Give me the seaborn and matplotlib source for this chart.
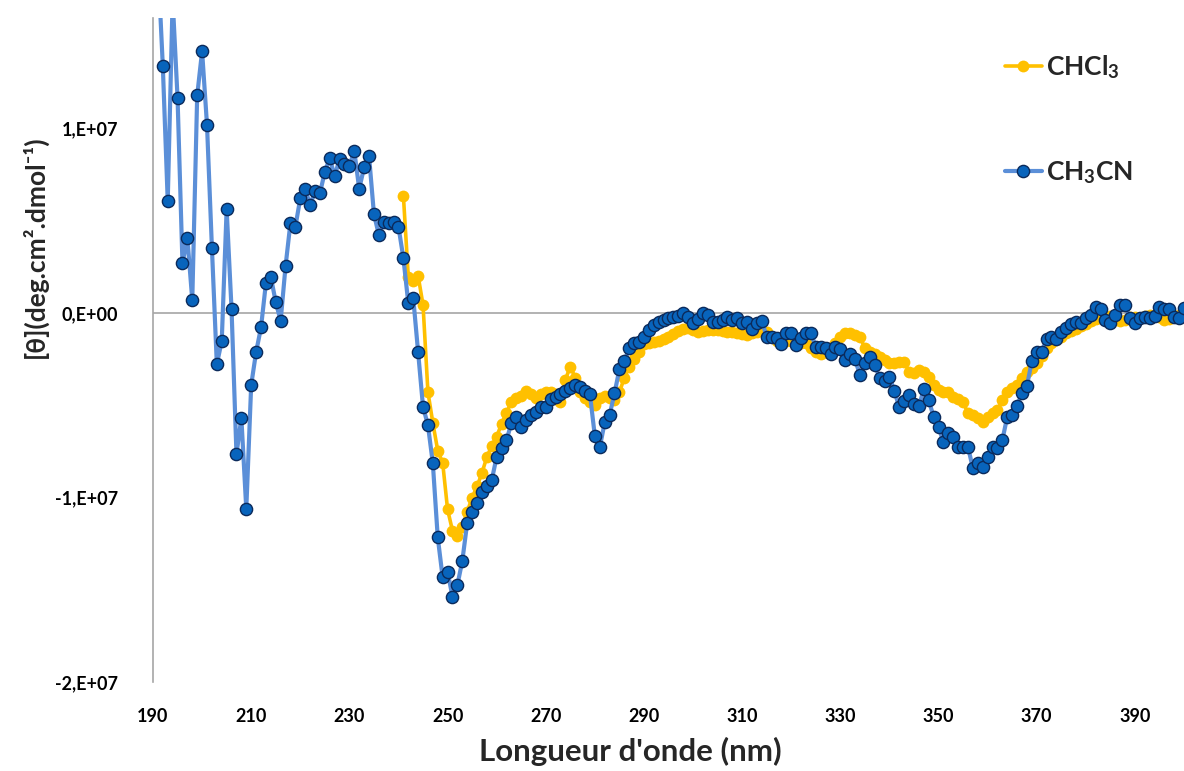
import matplotlib
matplotlib.use("Agg")
import matplotlib.pyplot as plt
import numpy as np
import pandas as pd
import seaborn as sns

# ---------------- data (theta values in units of 1e6) ----------------
wl_ch3cn = list(range(191, 401))
theta_ch3cn = [
    19.0, 13.39, 6.07, 17.0, 11.67, 2.71, 4.06, 0.70, 11.8, 14.2,
    10.2, 3.54, -2.77, -1.52, 5.64, 0.20, -7.64, -5.69, -10.62, -3.90,
    -2.11, -0.78, 1.63, 1.96, 0.60, -0.42, 2.55, 4.90, 4.68, 6.23,
    6.74, 5.85, 6.63, 6.50, 7.66, 8.40, 7.42, 8.36, 8.11, 7.97,
    8.80, 6.74, 7.90, 8.53, 5.38, 4.24, 4.92, 4.86, 4.93, 4.68,
    2.98, 0.54, 0.84, -2.11, -5.08, -6.07, -8.15, -12.16, -14.33, -14.02,
    -15.38, -14.74, -13.44, -11.37, -10.77, -10.28, -9.68, -9.36, -9.05, -7.79,
    -7.30, -6.88, -5.98, -5.65, -6.16, -5.80, -5.53, -5.35, -5.11, -5.11,
    -4.66, -4.53, -4.39, -4.23, -4.08, -3.90, -4.03, -4.21, -4.41, -6.67,
    -7.28, -5.93, -5.53, -4.35, -3.05, -2.60, -1.91, -1.64, -1.55, -1.32,
    -0.92, -0.65, -0.47, -0.38, -0.29, -0.20, -0.16, 0.02, -0.20, -0.56,
    -0.34, 0.02, -0.11, -0.47, -0.47, -0.38, -0.23, -0.38, -0.29, -0.56,
    -0.47, -0.88, -0.56, -0.42, -1.28, -1.32, -1.34, -1.68, -1.10, -1.10,
    -1.73, -1.37, -1.10, -1.10, -1.82, -1.82, -1.90, -2.19, -1.82, -1.97,
    -2.55, -2.22, -2.51, -3.36, -2.73, -2.40, -2.82, -3.50, -3.69, -3.45,
    -4.21, -5.11, -4.75, -4.44, -4.93, -5.04, -4.14, -4.72, -5.62, -6.16,
    -7.01, -6.52, -6.70, -7.25, -7.25, -7.25, -8.42, -8.15, -8.33, -7.79,
    -7.25, -7.34, -6.88, -5.62, -5.53, -5.04, -4.32, -3.96, -2.60, -2.10,
    -2.10, -1.43, -1.28, -1.43, -1.01, -0.79, -0.61, -0.47, -0.56, -0.29,
    -0.11, 0.34, 0.22, -0.38, -0.52, -0.11, 0.43, 0.43, -0.29, -0.56,
    -0.29, -0.20, -0.24, -0.15, 0.31, 0.20, 0.20, -0.20, -0.24, 0.25,
]

wl_chcl3 = list(range(241, 401))
theta_chcl3 = [
    6.36, 1.97, 1.75, 2.02, 0.45, -4.28, -5.95, -7.46, -8.11, -10.64,
    -11.80, -12.09, -11.58, -10.77, -10.0, -9.4, -8.67, -7.8, -7.2, -6.7,
    -6.0, -5.4, -4.8, -4.6, -4.5, -4.2, -4.4, -4.6, -4.4, -4.3,
    -4.3, -4.4, -4.8, -3.6, -2.9, -3.5, -4.3, -4.6, -4.8, -5.0,
    -4.6, -4.5, -4.6, -4.7, -4.3, -3.5, -2.9, -2.5, -2.1, -1.7,
    -1.6, -1.55, -1.5, -1.4, -1.3, -1.15, -0.95, -0.85, -0.8, -0.9,
    -1.0, -0.95, -0.9, -0.9, -0.9, -0.95, -1.0, -1.0, -1.1, -1.15,
    -1.2, -1.1, -1.0, -0.95, -1.0, -1.3, -1.5, -1.55, -1.5, -1.5,
    -1.55, -1.6, -1.6, -1.9, -2.1, -2.2, -2.1, -1.9, -1.6, -1.28,
    -1.10, -1.10, -1.19, -1.28, -1.91, -2.10, -2.19, -2.37, -2.55, -2.73,
    -2.73, -2.64, -2.64, -3.18, -3.27, -3.09, -3.18, -3.45, -3.90, -4.17,
    -4.26, -4.26, -4.53, -4.63, -4.81, -5.44, -5.53, -5.71, -5.89, -5.62,
    -5.44, -5.26, -4.72, -4.26, -4.08, -3.90, -3.54, -3.18, -3.0, -2.7,
    -2.3, -1.9, -1.6, -1.45, -1.3, -1.1, -0.95, -0.85, -0.7, -0.6,
    -0.45, -0.3, -0.2, -0.25, -0.15, -0.35, -0.45, -0.35, -0.2, -0.2,
    -0.25, -0.15, -0.1, -0.1, -0.2, -0.35, -0.3, -0.2, -0.1, -0.1,
]

series_labels = [r"CHCl$_\mathbf{3}$", r"CH$_\mathbf{3}$CN"]
x_ticks = [190, 210, 230, 250, 270, 290, 310, 330, 350, 370, 390]
y_ticks = [-2e7, -1e7, 0, 1e7]
y_tick_labels = ["-2,E+07", "-1,E+07", "0,E+00", "1,E+07"]
x_label = "Longueur d'onde (nm)"
y_label = "[θ](deg.cm².dmol⁻¹)"

df_chcl3 = pd.DataFrame({"wl": wl_chcl3, "theta": np.array(theta_chcl3) * 1e6})
df_ch3cn = pd.DataFrame({"wl": wl_ch3cn, "theta": np.array(theta_ch3cn) * 1e6})

# ---------------- style ----------------
sns.set_theme(style="white")
FAM = ["Lato", "DejaVu Sans"]
plt.rcParams["font.family"] = FAM
plt.rcParams["mathtext.fontset"] = "custom"
plt.rcParams["mathtext.bf"] = "Lato:bold"
plt.rcParams["mathtext.rm"] = "Lato"
plt.rcParams["mathtext.it"] = "Lato:italic"

W, H = 1184, 771
fig = plt.figure(figsize=(W / 100, H / 100), dpi=100)
ax = fig.add_axes([153 / W, 1 - 682 / H, 1 - 153 / W, (682 - 18) / H])

ax.axhline(0, color="#A6A6A6", lw=1.2, zorder=1)

sns.lineplot(data=df_chcl3, x="wl", y="theta", ax=ax, color="#FFC000",
             lw=2.6, marker="o", markersize=8.5, markeredgewidth=0,
             markeredgecolor="#FFC000", label=series_labels[0],
             estimator=None, sort=False, zorder=3)
sns.lineplot(data=df_ch3cn, x="wl", y="theta", ax=ax, color="#5B8FD8",
             lw=3.0, marker="o", markersize=8.8, markeredgewidth=1.0,
             markerfacecolor="#0864BC", markeredgecolor="#0B2A5B",
             label=series_labels[1], estimator=None, sort=False, zorder=4)

ax.set_xlim(190, 400)
ax.set_ylim(-2e7, 1.6e7)
ax.set_xticks(x_ticks)
ax.set_xticklabels([str(v) for v in x_ticks])
ax.set_yticks(y_ticks)
ax.set_yticklabels(y_tick_labels)
ax.tick_params(axis="both", length=0, labelsize=13)
ax.tick_params(axis="x", pad=19)
ax.tick_params(axis="y", pad=25)
for lab in ax.get_xticklabels() + ax.get_yticklabels():
    lab.set_fontweight("bold")
    lab.set_color("black")

for s in ["top", "right", "bottom"]:
    ax.spines[s].set_visible(False)
ax.spines["left"].set_color("#A6A6A6")
ax.spines["left"].set_linewidth(1.2)

ax.set_xlabel("")
ax.set_ylabel("")
fig.text(630 / W, 1 - 751 / H, x_label, ha="center", va="center",
         fontsize=22.5, fontweight="bold")
fig.text(35 / W, 1 - 247 / H, y_label, ha="center", va="center",
         rotation=90, fontsize=19, fontweight="bold")

leg = ax.legend(loc="upper left", bbox_to_anchor=(1005 / W, 1 - 53 / H),
                bbox_transform=fig.transFigure, frameon=False,
                prop={"family": FAM, "weight": "bold", "size": 19},
                handlelength=1.4, handletextpad=0.15, labelspacing=2.95,
                borderpad=0, borderaxespad=0)

fig.savefig("out.png", dpi=100)
